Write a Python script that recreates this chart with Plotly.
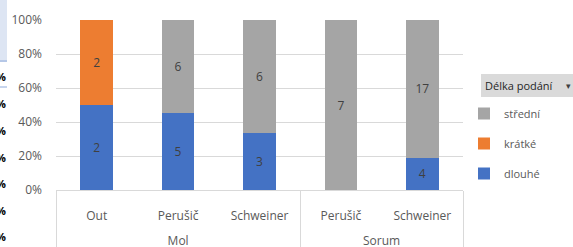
import plotly.graph_objects as go

groups = ["Mol", "Mol", "Mol", "Sorum", "Sorum"]
sites = ["Out", "Perušič", "Schweiner", "Perušič", "Schweiner"]
dlouhe = [2, 5, 3, 0, 4]
kratke = [2, 0, 0, 0, 0]
stredni = [0, 6, 6, 7, 17]

series = [
    ("dlouhé", dlouhe, "#4472C4", 3),
    ("krátké", kratke, "#ED7D31", 2),
    ("střední", stredni, "#A5A5A5", 1),
]

W, H = 573, 247
L, R, T, B = 56, 463, 20, 190
PW, PH = R - L, B - T


def px(x):
    return (x - L) / PW


def py(y):
    return (B - y) / PH


FONT = "Open Sans"
fig = go.Figure()
for name, vals, col, rank in series:
    fig.add_trace(go.Bar(
        x=[groups, [s + "<br><span style='font-size:28px'> </span>" for s in sites]],
        y=vals, name=name, marker_color=col,
        marker_line_width=0, legendgroup=name, legendrank=rank,
        text=[str(v) if v else "" for v in vals], textposition="inside",
        insidetextanchor="middle", textangle=0,
        textfont=dict(color="#404040", size=12, family=FONT),
    ))

fig.update_layout(
    width=W, height=H, margin=dict(l=L, r=W - R, t=T, b=H - B, autoexpand=False),
    barmode="stack", barnorm="percent", bargap=0.6,
    plot_bgcolor="white", paper_bgcolor="white",
    font=dict(family=FONT, size=12, color="#595959"),
    legend=dict(x=px(464), xanchor="left", y=py(99), yanchor="top",
                traceorder="grouped", tracegroupgap=11,
                font=dict(size=11, color="#595959", family=FONT)),
    uniformtext=dict(mode="show", minsize=8),
)
fig.update_yaxes(range=[0, 100], dtick=20, ticksuffix="%", gridcolor="#d9d9d9",
                 zeroline=False, ticklabelstandoff=13, automargin=False,
                 tickfont=dict(size=12, color="#595959", family=FONT))
fig.update_xaxes(showline=True, linecolor="#d9d9d9", showdividers=True,
                 dividercolor="#d9d9d9", dividerwidth=1, ticklabelstandoff=15,
                 automargin=False,
                 tickfont=dict(size=12, color="#595959", family=FONT))

# legend header button
fig.add_shape(type="rect", xref="paper", yref="paper", x0=px(481), x1=px(576),
              y0=py(97), y1=py(74), fillcolor="#dadada", line_width=0, layer="below")
fig.add_annotation(xref="paper", yref="paper", x=px(483), y=py(85.5), xanchor="left",
                   yanchor="middle", text="Délka podání", showarrow=False,
                   font=dict(size=11, color="#262626", family=FONT))
fig.add_annotation(xref="paper", yref="paper", x=px(568), y=py(85.5), xanchor="center",
                   yanchor="middle", text="▾", showarrow=False,
                   font=dict(size=9, color="#404040", family=FONT))

# spreadsheet remnants at left edge
fig.add_shape(type="rect", xref="paper", yref="paper", x0=px(0), x1=px(7),
              y0=py(62), y1=py(-5), fillcolor="#dde5f3", line_width=0, layer="below")
fig.add_shape(type="line", xref="paper", yref="paper", x0=px(0), x1=px(7),
              y0=py(61), y1=py(61), line=dict(color="#8eaadb", width=1))
fig.add_shape(type="line", xref="paper", yref="paper", x0=px(0), x1=px(7),
              y0=py(87), y1=py(87), line=dict(color="#8eaadb", width=1))
for yy in [76, 103, 130, 157, 183, 210, 237]:
    fig.add_annotation(xref="paper", yref="paper", x=px(8), y=py(yy),
                       xanchor="right", yanchor="middle", text="<b>%</b>", showarrow=False,
                       font=dict(size=11, color="black", family=FONT))

fig.write_html("out.html", config={"displayModeBar": False},
               post_script="document.body.style.margin='0';document.body.style.overflow='hidden';")
